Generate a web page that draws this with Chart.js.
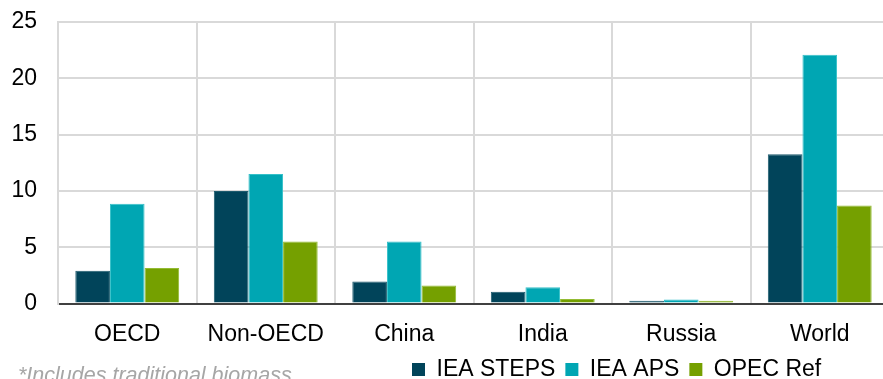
<!DOCTYPE html>
<html>
<head>
<meta charset="utf-8">
<script src="https://cdn.jsdelivr.net/npm/chart.js@4/dist/chart.umd.min.js"></script>
<style>
  html, body { margin: 0; padding: 0; background: #fff; overflow: hidden; }
  #wrap { width: 891px; height: 379px; }
</style>
</head>
<body>
<div id="wrap"><canvas id="c" width="891" height="379"></canvas></div>
<script>
const categories = ["OECD", "Non-OECD", "China", "India", "Russia", "World"];
const ieaSteps = [2.9, 10.0, 1.95, 1.05, 0.25, 13.25];
const ieaAps = [8.85, 11.5, 5.5, 1.45, 0.35, 22.1];
const opecRef = [3.15, 5.5, 1.6, 0.4, 0.25, 8.7];
const seriesNames = ["IEA STEPS", "IEA APS", "OPEC Ref"];
const yTicks = { min: 0, max: 25, step: 5 };
const footnote = "*Includes traditional biomass";

const FONT = "'Liberation Sans', Arial, sans-serif";

const legendShift = {
  id: 'legendShift',
  afterLayout(chart) {
    const lg = chart.legend;
    if (!lg) return;
    const h = lg.height;
    lg.left = 402;
    lg.top = 348;
    lg.bottom = lg.top + h;
  }
};

const footnotePlugin = {
  id: 'footnote',
  afterDraw(chart) {
    const ctx = chart.ctx;
    ctx.save();
    ctx.font = "italic 21.5px " + FONT;
    ctx.fillStyle = '#a6a6a6';
    ctx.textBaseline = 'alphabetic';
    ctx.textAlign = 'left';
    ctx.fillText(footnote, 18, 381.5);
    ctx.restore();
  }
};

new Chart(document.getElementById('c'), {
  type: 'bar',
  data: {
    labels: categories,
    datasets: [
      { label: seriesNames[0], data: ieaSteps, backgroundColor: '#01445a', borderColor: '#1d5a6d', borderWidth: 1 },
      { label: seriesNames[1], data: ieaAps, backgroundColor: '#00a6b3', borderColor: '#35c0c9', borderWidth: 1 },
      { label: seriesNames[2], data: opecRef, backgroundColor: '#75a000', borderColor: '#93bb33', borderWidth: 1 }
    ]
  },
  options: {
    responsive: false,
    animation: false,
    layout: { autoPadding: false, padding: { top: 22, left: 11, right: 2, bottom: -10.5 } },
    datasets: { bar: { barPercentage: 1.0, categoryPercentage: 0.75 } },
    plugins: {
      legend: {
        position: 'bottom',
        align: 'start',
        labels: {
          boxWidth: 13,
          boxHeight: 13,
          padding: 10,
          color: '#000',
          font: { family: FONT, size: 23 },
          generateLabels(chart) {
            return chart.data.datasets.map((ds, i) => ({
              text: ds.label,
              fillStyle: ds.backgroundColor,
              strokeStyle: ds.backgroundColor,
              lineWidth: 0,
              hidden: false,
              datasetIndex: i
            }));
          }
        }
      },
      tooltip: { enabled: false }
    },
    scales: {
      x: {
        afterFit(scale) { scale.height = 43; },
        grid: { display: true, color: '#d9d9d9', lineWidth: 2, drawTicks: false, offset: true },
        border: { display: true, color: '#404040', width: 2 },
        ticks: { color: '#000', font: { family: FONT, size: 23 }, padding: 17, maxRotation: 0 }
      },
      y: {
        min: yTicks.min,
        max: yTicks.max,
        afterFit(scale) { scale.width = 47; scale.paddingTop = 0; scale.paddingBottom = 0; },
        grid: { color: '#d9d9d9', lineWidth: 2, drawTicks: false },
        border: { display: true, color: '#d9d9d9', width: 2 },
        ticks: { stepSize: yTicks.step, color: '#000', font: { family: FONT, size: 23 }, padding: 21 }
      }
    }
  },
  plugins: [legendShift, footnotePlugin]
});
</script>
</body>
</html>
